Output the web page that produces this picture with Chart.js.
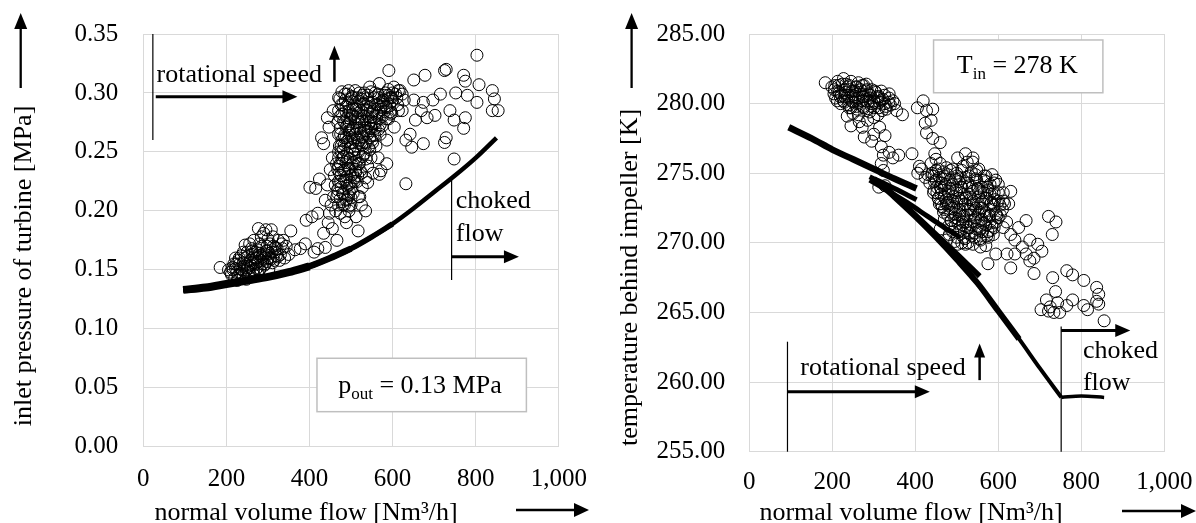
<!DOCTYPE html>
<html>
<head>
<meta charset="utf-8">
<script src="https://cdn.jsdelivr.net/npm/chart.js@4.4.1/dist/chart.umd.min.js"></script>
<style>
  body { margin: 0; background: #fff; }
  canvas { position: absolute; top: 0; }
  #left { left: 0; }
  #right { left: 600px; }
</style>
</head>
<body>
<canvas id="left" width="600" height="523"></canvas>
<canvas id="right" width="596" height="523"></canvas>
<script>
// ---- data ----
const flowTicks = [0, 200, 400, 600, 800, 1000];

// left: inlet pressure of turbine [MPa]
const pressureCurveFlow = [96, 150, 200, 250, 300, 350, 400, 450, 500, 550, 600, 650, 700, 750, 800, 850];
const pressureCurve = [0.133, 0.135, 0.138, 0.141, 0.144, 0.148, 0.153, 0.160, 0.168, 0.178, 0.189, 0.202, 0.216, 0.230, 0.245, 0.262];

const pressureLow = [
  [185,0.152],[205,0.150],[212,0.146],[215,0.152],[220,0.143],[225,0.148],[232,0.155],[238,0.150],
  [240,0.145],[245,0.160],[248,0.142],[252,0.153],[255,0.148],[258,0.158],[262,0.163],[265,0.150],
  [268,0.145],[270,0.155],[273,0.160],[275,0.167],[277,0.185],[280,0.150],[283,0.158],[285,0.170],
  [288,0.163],[290,0.181],[293,0.155],[296,0.166],[300,0.160],[302,0.150],[305,0.172],[308,0.184],
  [310,0.165],[312,0.178],[315,0.158],[318,0.169],[320,0.162],[325,0.175],[330,0.163],[335,0.168],
  [337,0.175],[340,0.160],[355,0.183],[365,0.167],[245,0.171],[260,0.168],[230,0.158],[218,0.155],
  [300,0.176],[295,0.184],[280,0.172],[270,0.165],[250,0.165],[226,0.141],
  [210,0.148],[222,0.151],[228,0.145],[235,0.147],[242,0.153],[247,0.149],[253,0.145],[257,0.152],
  [263,0.156],[267,0.161],[272,0.151],[276,0.157],[282,0.162],[287,0.155],[291,0.160],[297,0.157],
  [303,0.164],[307,0.159],[313,0.170],[322,0.168],[328,0.158],[333,0.172],[344,0.170],[350,0.163],
  [298,0.170],[284,0.178],[266,0.175],[256,0.172],[236,0.162],[222,0.160],[378,0.168],[390,0.172],
  [216,0.150],[233,0.151],[249,0.150],[264,0.149],[281,0.151],[223,0.155],[241,0.156],[259,0.154],
  [274,0.156],[292,0.154],[311,0.156],[231,0.160],[251,0.161],[269,0.160],[286,0.161],[305,0.160],
  [323,0.161],[241,0.165],[262,0.166],[280,0.164],[299,0.166],[317,0.165]
];
const pressureRise = [
  [392,0.192],[406,0.195],[415,0.219],[401,0.220],[424,0.227],[429,0.262],[434,0.257],[443,0.279],
  [447,0.271],[457,0.285],[466,0.212],[438,0.209],[420,0.198],[448,0.198],[466,0.175],[434,0.181],
  [420,0.168],[411,0.165],[438,0.169],[489,0.190],[517,0.183],[535,0.200],[521,0.212],[540,0.224],
  [485,0.299],[494,0.302],[503,0.296],
  [470,0.205],[480,0.215],[475,0.225],[490,0.210],[495,0.222],[485,0.235],[500,0.230],[492,0.245],
  [505,0.240],[510,0.252],[498,0.258],[515,0.262],[505,0.270],[520,0.275],[510,0.280],[525,0.285],
  [495,0.285],[485,0.275],[475,0.265],[470,0.250],[480,0.290],[500,0.295],[530,0.290],[540,0.280],
  [535,0.268],[545,0.262],[530,0.255],[550,0.270],[555,0.285],[560,0.275],[565,0.290],[575,0.280],
  [570,0.265],[560,0.255],[548,0.245],[540,0.238],[525,0.232],[515,0.225],[505,0.215],[495,0.200],
  [485,0.195],[460,0.230],[455,0.245],[465,0.240],[520,0.300],[540,0.298],[558,0.300],[580,0.298],
  [590,0.303],[600,0.300],[610,0.296],[585,0.288],[575,0.272],[565,0.245],[553,0.232],[512,0.242],
  [488,0.262],[530,0.248]
];
const pressureCore = [
  [468,0.218],[472,0.232],[478,0.244],[482,0.252],[488,0.226],[493,0.236],[497,0.268],[502,0.262],
  [507,0.248],[511,0.233],[514,0.270],[518,0.258],[522,0.266],[526,0.278],[528,0.262],[533,0.273],
  [537,0.286],[542,0.292],[546,0.276],[550,0.282],[553,0.292],[557,0.264],[562,0.283],[567,0.296],
  [572,0.288],[578,0.292],[583,0.300],[588,0.295],[593,0.289],[598,0.293],[603,0.305],[607,0.299],
  [612,0.290],[618,0.302],[498,0.278],[488,0.288],[478,0.282],[473,0.295],[508,0.290],[516,0.296],
  [524,0.295],[532,0.300],[512,0.286],[503,0.282],[492,0.272],[483,0.262],[476,0.255],[470,0.238],
  [462,0.222],[458,0.212],[452,0.205],[463,0.200],[474,0.198],[484,0.205],[494,0.213],[500,0.205],
  [508,0.228],[520,0.240],[536,0.244],[545,0.252],[552,0.258],[542,0.268],[558,0.270],[568,0.278],
  [580,0.284],[590,0.278],[598,0.283],[535,0.228],[527,0.220],[518,0.212],[445,0.190],[455,0.185],
  [443,0.222],[450,0.235],[512,0.195],[525,0.205],
  [478,0.301],[492,0.299],[510,0.302],[528,0.298],[548,0.301],[565,0.299],[590,0.298],
  [470,0.296],[486,0.294],[502,0.297],[520,0.293],[537,0.295],[556,0.296],[575,0.293],[598,0.296],
  [476,0.290],[494,0.291],[512,0.289],[530,0.291],[546,0.288],[562,0.290],[584,0.289],
  [470,0.285],[488,0.284],[505,0.286],[518,0.283],[540,0.285],[552,0.284],[572,0.286],[594,0.284],
  [473,0.280],[490,0.279],[503,0.281],[516,0.278],[532,0.280],[548,0.279],[562,0.281],[585,0.278],
  [468,0.275],[482,0.276],[496,0.274],[510,0.275],[527,0.276],[542,0.274],[556,0.275],[570,0.273],
  [474,0.270],[488,0.271],[502,0.269],[520,0.270],[532,0.268],[548,0.270],[566,0.269],
  [470,0.265],[484,0.264],[496,0.266],[510,0.265],[526,0.263],[540,0.265],[553,0.264],
  [478,0.260],[490,0.259],[506,0.261],[520,0.260],[536,0.258],[550,0.260],
  [472,0.255],[484,0.256],[498,0.254],[512,0.255],[526,0.256],[542,0.254],
  [476,0.250],[490,0.249],[504,0.251],[518,0.250],[534,0.249],
  [470,0.245],[482,0.246],[498,0.244],[512,0.245],[528,0.246],
  [474,0.240],[488,0.241],[502,0.239],[518,0.240],
  [468,0.235],[482,0.234],[496,0.236],[510,0.235],[522,0.234],
  [476,0.230],[490,0.229],[504,0.231],[516,0.230],
  [470,0.225],[484,0.226],[498,0.224],[508,0.225],
  [476,0.220],[490,0.221],[502,0.219],
  [468,0.215],[482,0.214],[496,0.216],
  [474,0.210],[488,0.209],[500,0.211],
  [480,0.205],[494,0.204]
];
const pressureHigh = [
  [545,0.305],[568,0.308],[591,0.319],[577,0.294],[595,0.296],[614,0.302],[623,0.299],[632,0.223],
  [586,0.240],[572,0.234],[568,0.231],[586,0.260],[604,0.271],[595,0.282],[623,0.285],[651,0.294],
  [651,0.311],[678,0.315],[669,0.285],[655,0.277],[642,0.265],[632,0.260],[646,0.254],[674,0.257],
  [683,0.279],[697,0.294],[715,0.299],[725,0.319],[729,0.320],[771,0.315],[775,0.310],[803,0.332],
  [808,0.307],[803,0.292],[752,0.300],[780,0.298],[840,0.302],[845,0.295],[854,0.285],[840,0.285],
  [738,0.285],[748,0.277],[775,0.279],[771,0.270],[729,0.262],[725,0.258],[748,0.244],[702,0.281],
  [674,0.292],[614,0.285],[628,0.294]
];

// right: temperature behind impeller [K]
const tempLineAFlow = [95, 150, 200, 250, 300, 350, 403];
const tempLineA = [278.3, 277.5, 276.7, 276.0, 275.3, 274.6, 273.9];
const tempLineBFlow = [290, 350, 403];
const tempLineB = [274.75, 273.9, 273.1];
const tempLineCFlow = [290, 330, 380, 430, 470, 508];
const tempLineC = [274.5, 273.8, 272.9, 271.9, 271.1, 270.4];
const tempLineDFlow = [315, 350, 400, 450, 500, 555];
const tempLineD = [274.3, 273.4, 272.0, 270.6, 269.2, 267.6];
const tempLineEFlow = [300, 350, 400, 450, 500, 550, 600, 650, 700, 752];
const tempLineE = [274.6, 273.3, 271.9, 270.4, 268.8, 267.1, 265.1, 263.1, 261.0, 258.9];
const tempTailFlow = [752, 800, 855];
const tempTail = [258.9, 259.0, 258.9];

const tempUpper = [
  [183,281.5],[213,281.6],[227,281.8],[245,281.6],[263,281.5],[282,281.4],[236,281.2],[254,280.9],
  [272,280.7],[291,280.4],[309,280.4],[337,280.4],[346,280.2],[327,280.0],[300,279.7],[282,279.5],
  [263,279.2],[245,279.7],[227,280.2],[208,280.4],[217,280.8],[240,280.4],[318,280.9],[295,281.0],
  [272,281.3],[337,280.7],[314,280.1],[286,280.1],[250,280.1],[236,279.1],[245,278.4],[272,278.3],
  [277,277.6],[300,277.8],[314,278.3],[327,277.7],[295,277.3],[318,276.9],[323,276.3],[337,276.5],
  [346,276.1],[360,276.3],[369,279.2],[318,275.7],[323,275.2],[327,274.1],[199,281.2],[204,280.7],
  [259,281.2],[282,280.9],[300,280.2],[272,280.2],[231,280.8],[263,280.4],
  [205,281.0],[215,281.3],[222,280.6],[233,281.4],[242,281.0],[250,280.6],[258,280.2],[268,281.0],
  [276,280.5],[288,280.7],[296,280.0],[305,280.8],[312,280.5],[322,280.3],[330,279.8],[340,279.9],
  [350,280.0],[290,279.4],[275,279.8],[260,279.6],[250,279.3],[240,279.9],[230,280.5],[220,280.0],
  [212,280.2],[320,279.5],[310,279.2],[300,279.0],[285,278.8],[265,278.7],[355,279.5],[312,274.0],
  [206,281.3],[224,281.4],[241,281.3],[257,281.2],[276,281.3],[213,280.9],[231,281.0],[249,280.9],
  [266,280.8],[284,281.0],[302,280.9],[219,280.5],[237,280.6],[255,280.5],[273,280.5],[291,280.6],
  [308,280.5],[326,280.6],[229,280.1],[247,280.2],[264,280.1],[282,280.2],[301,280.1],[318,280.2],
  [336,280.1],[241,279.7],[258,279.8],[276,279.7],[294,279.8],[312,279.7],[330,279.6]
];
const tempStrand = [
  [405,279.7],[419,280.2],[427,279.5],[442,279.6],[424,278.6],[438,278.8],[427,277.9],[442,277.5],
  [460,277.2],[447,276.4],[392,276.4],[410,275.5],[406,275.0],[424,274.7],[438,275.7],[460,275.7],
  [475,275.4],[502,276.1],[521,276.4],[539,276.1],[548,275.2],[566,274.5],[580,274.2],[594,274.5],
  [566,273.6],[612,273.0],[630,273.7]
];
const tempCore = [
  [440,275.0],[450,274.5],[460,274.0],[470,274.8],[480,273.5],[490,274.2],[500,273.8],[510,273.0],
  [520,274.3],[530,273.5],[540,272.8],[550,273.9],[560,272.5],[570,273.2],[580,272.0],[590,272.7],
  [600,271.8],[455,273.2],[465,272.6],[475,272.8],[485,272.2],[495,271.8],[505,272.4],[515,271.5],
  [525,272.0],[535,271.3],[545,271.8],[555,270.9],[565,271.4],[575,270.8],[585,271.2],[480,271.2],
  [490,270.8],[500,270.4],[510,270.9],[520,270.3],[530,270.7],[470,271.7],[445,273.8],[435,274.3],
  [455,275.3],[500,275.0],[515,275.5],[530,274.8],[545,274.6],[560,274.0],[575,273.8],[590,273.6],
  [600,273.0],[610,272.4],[620,271.5],[460,271.0],[475,270.2],[520,272.8],[505,273.2],[490,273.0],
  [470,273.3],[540,273.0],[555,272.2],
  [445,274.8],[452,273.6],[458,272.8],[463,273.8],[468,272.2],[473,274.2],[478,272.9],[483,273.9],
  [487,271.6],[493,272.6],[497,274.6],[503,271.4],[507,272.0],[512,274.0],[517,271.9],[523,273.2],
  [527,271.1],[533,272.4],[537,274.0],[543,272.3],[547,271.0],[552,272.8],[558,271.6],[563,273.0],
  [567,272.0],[572,270.5],[578,271.9],[583,272.9],[588,270.6],[595,271.5],[605,272.0],[615,272.8],
  [482,270.6],[495,270.1],[512,270.0],[527,270.0],[542,270.4],[557,270.2],[570,269.8],[465,274.6],
  [485,275.2],[508,274.6],[525,275.8],[538,275.8],[553,275.3],[570,274.8],[585,274.9],[600,274.2],
  [612,273.6],[625,272.8],[450,276.0],[430,274.9],[415,275.3],
  [450,275.2],[468,275.1],[490,275.3],[512,275.2],[535,275.1],
  [440,274.8],[458,274.7],[478,274.9],[500,274.8],[522,274.7],[545,274.9],[566,274.8],
  [446,274.4],[464,274.3],[484,274.5],[505,274.4],[526,274.3],[548,274.5],[570,274.4],[590,274.3],
  [452,274.0],[470,274.1],[490,273.9],[510,274.0],[530,274.1],[552,273.9],[574,274.0],
  [444,273.6],[462,273.5],[480,273.7],[498,273.6],[518,273.5],[538,273.7],[558,273.6],[580,273.5],[600,273.6],
  [456,273.2],[474,273.1],[492,273.3],[512,273.2],[532,273.1],[552,273.3],[572,273.2],[592,273.1],
  [462,272.8],[480,272.7],[500,272.9],[520,272.8],[540,272.7],[560,272.9],[582,272.8],[604,272.7],
  [470,272.4],[488,272.5],[508,272.3],[528,272.4],[546,272.5],[566,272.3],[588,272.4],
  [478,272.0],[496,272.1],[514,271.9],[534,272.0],[552,272.1],[572,271.9],[596,272.0],
  [486,271.6],[504,271.7],[522,271.5],[542,271.6],[560,271.7],[580,271.5],
  [496,271.2],[514,271.3],[532,271.1],[550,271.2],[570,271.3],[590,271.1],
  [506,270.8],[524,270.9],[544,270.7],[562,270.8],[582,270.9],
  [516,270.4],[536,270.5],[556,270.3],[576,270.4]
];
const tempSpread = [
  [594,272.1],[612,271.1],[630,270.6],[649,271.1],[667,271.6],[640,270.2],[658,269.7],[676,270.2],
  [695,269.9],[705,269.4],[686,268.9],[676,268.7],[667,269.2],[630,268.2],[621,269.2],[575,268.5],
  [594,269.2],[557,269.7],[539,269.9],[521,269.9],[502,269.9],[721,271.9],[739,271.5],[730,270.6],
  [686,267.8],[640,269.2]
];
const tempChoked = [
  [731,267.5],[765,268.0],[779,267.7],[806,267.3],[738,266.5],[716,265.9],[703,265.2],[721,265.1],
  [734,265.0],[748,265.0],[765,265.5],[779,265.9],[806,265.5],[815,265.2],[837,266.8],[842,266.3],
  [842,265.6],[855,264.4],[837,265.8],[725,265.4],[743,265.7]
];

// ---- helpers ----
const FONT = '"Liberation Serif", "Times New Roman", serif';

function xy(xs, ys) { return xs.map((x, i) => ({ x: x, y: ys[i] })); }
function pairs(list) { return list.map(p => ({ x: p[0], y: p[1] })); }

function lineSet(data, width) {
  return { data: data, showLine: true, borderColor: '#000', borderWidth: width,
    pointRadius: 0, fill: false, cubicInterpolationMode: 'monotone', borderCapStyle: 'butt' };
}
function circleSet(data) {
  return { data: data, showLine: false, pointRadius: 6, pointBorderWidth: 1,
    pointBorderColor: '#000', pointBackgroundColor: 'rgba(0,0,0,0)' };
}

function arrow(ctx, x1, y1, x2, y2, lw, hl, hw) {
  const a = Math.atan2(y2 - y1, x2 - x1);
  ctx.lineWidth = lw;
  ctx.beginPath();
  ctx.moveTo(x1, y1);
  ctx.lineTo(x2 - hl * 0.8 * Math.cos(a), y2 - hl * 0.8 * Math.sin(a));
  ctx.stroke();
  ctx.beginPath();
  ctx.moveTo(x2, y2);
  ctx.lineTo(x2 - hl * Math.cos(a) + hw / 2 * Math.sin(a), y2 - hl * Math.sin(a) - hw / 2 * Math.cos(a));
  ctx.lineTo(x2 - hl * Math.cos(a) - hw / 2 * Math.sin(a), y2 - hl * Math.sin(a) + hw / 2 * Math.cos(a));
  ctx.closePath();
  ctx.fill();
}

// annotations in data units, axis titles in canvas pixels
function decor(cfg) {
  return {
    id: 'decor',
    afterDatasetsDraw(chart) {
      const ctx = chart.ctx;
      const X = v => chart.scales.x.getPixelForValue(v);
      const Y = v => chart.scales.y.getPixelForValue(v);
      ctx.save();
      ctx.strokeStyle = '#000';
      ctx.fillStyle = '#000';

      // boxed label
      const b = cfg.box;
      const bx = X(b.x0), by = Y(b.y1), bw = X(b.x1) - bx, bh = Y(b.y0) - by;
      ctx.fillStyle = '#fff';
      ctx.fillRect(bx, by, bw, bh);
      ctx.strokeStyle = '#bfbfbf';
      ctx.lineWidth = 1.5;
      ctx.strokeRect(bx, by, bw, bh);
      ctx.fillStyle = '#000';
      ctx.strokeStyle = '#000';
      ctx.textBaseline = 'alphabetic';
      ctx.textAlign = 'left';
      let tx = X(b.tx);
      const ty = Y(b.ty);
      ctx.font = '26px ' + FONT;
      ctx.fillText(b.main, tx, ty);
      tx += ctx.measureText(b.main).width;
      ctx.font = '17px ' + FONT;
      ctx.fillText(b.sub, tx, ty + 6);
      tx += ctx.measureText(b.sub).width;
      ctx.font = '26px ' + FONT;
      ctx.fillText(b.rest, tx, ty);

      // rotational speed
      const r = cfg.speed;
      ctx.lineWidth = 1.2;
      ctx.beginPath();
      ctx.moveTo(X(r.vx), Y(r.vy0));
      ctx.lineTo(X(r.vx), Y(r.vy1));
      ctx.stroke();
      arrow(ctx, X(r.ax0), Y(r.ay), X(r.ax1), Y(r.ay), 3, 15, 13);
      ctx.font = '26px ' + FONT;
      ctx.fillText('rotational speed', X(r.tx), Y(r.ty));
      arrow(ctx, X(r.ux), Y(r.uy0), X(r.ux), Y(r.uy1), 2.5, 14, 11);

      // choked flow
      const c = cfg.choked;
      ctx.lineWidth = 1.2;
      ctx.beginPath();
      ctx.moveTo(X(c.vx), Y(c.vy0));
      ctx.lineTo(X(c.vx), Y(c.vy1));
      ctx.stroke();
      arrow(ctx, X(c.vx), Y(c.ay), X(c.ax1), Y(c.ay), 3, 15, 13);
      ctx.fillText('choked', X(c.tx), Y(c.ty1));
      ctx.fillText('flow', X(c.tx), Y(c.ty2));

      // axis titles with arrows
      const t = cfg.titles;
      ctx.font = '26px ' + FONT;
      ctx.textAlign = 'center';
      ctx.textBaseline = 'middle';
      ctx.fillText('normal volume flow [Nm³/h]', t.xTitleX, t.xTitleY);
      arrow(ctx, t.xArrow0, t.xArrowY, t.xArrow1, t.xArrowY, 2.3, 15, 14);
      ctx.save();
      ctx.translate(t.yTitleX, t.yTitleY);
      ctx.rotate(-Math.PI / 2);
      ctx.fillText(t.yText, 0, 0);
      ctx.restore();
      arrow(ctx, t.yArrowX, t.yArrow0, t.yArrowX, t.yArrow1, 2.3, 16, 13);
      ctx.restore();
    }
  };
}

function makeOptions(yMin, yMax, yStep, area, canvasW) {
  return {
    responsive: false,
    animation: false,
    layout: { padding: { left: 0, top: area.top, right: canvasW - area.right, bottom: 0 } },
    plugins: { legend: { display: false }, tooltip: { enabled: false } },
    scales: {
      x: {
        type: 'linear', min: 0, max: 1000,
        afterBuildTicks: s => { s.ticks = flowTicks.map(v => ({ value: v })); },
        grid: { color: '#d9d9d9', lineWidth: 1, drawTicks: false },
        border: { display: false },
        ticks: { color: '#000', font: { family: FONT, size: 25 }, padding: area.xPad,
          maxRotation: 0, callback: v => v.toLocaleString('en-US') },
        afterFit: s => { s.height = 523 - area.bottom; s.paddingLeft = 0; s.paddingRight = 0; }
      },
      y: {
        type: 'linear', min: yMin, max: yMax,
        ticks: { stepSize: yStep, color: '#000', font: { family: FONT, size: 25 }, padding: area.yPad,
          callback: v => v.toFixed(2) },
        grid: { color: '#d9d9d9', lineWidth: 1, drawTicks: false },
        border: { display: false },
        afterFit: s => { s.width = area.left; s.paddingTop = 0; s.paddingBottom = 0; }
      }
    }
  };
}

// ---- left chart ----
new Chart(document.getElementById('left'), {
  type: 'scatter',
  data: {
    datasets: [
      lineSet(xy(pressureCurveFlow, pressureCurve), 4.5),
      lineSet(xy(pressureCurveFlow.slice(0, 11), pressureCurve.slice(0, 11)), 5.5),
      lineSet(xy(pressureCurveFlow.slice(0, 9), pressureCurve.slice(0, 9)), 6.5),
      lineSet(xy(pressureCurveFlow.slice(0, 7), pressureCurve.slice(0, 7)), 8),
      circleSet(pairs(pressureLow)),
      circleSet(pairs(pressureRise)),
      circleSet(pairs(pressureCore)),
      circleSet(pairs(pressureHigh))
    ]
  },
  options: makeOptions(0, 0.35, 0.05,
    { left: 143.3, right: 558.8, top: 34, bottom: 446.7, xPad: 18, yPad: 25 }, 600),
  plugins: [decor({
    box: { x0: 418, x1: 922, y0: 0.0297, y1: 0.075, tx: 469, ty: 0.0455,
      main: 'p', sub: 'out', rest: ' = 0.13 MPa' },
    speed: { vx: 23, vy0: 0.35, vy1: 0.26, ax0: 30, ax1: 371, ay: 0.2968,
      tx: 32, ty: 0.3095, ux: 460, uy0: 0.3095, uy1: 0.340 },
    choked: { vx: 742, vy0: 0.229, vy1: 0.1414, ay: 0.1611, ax1: 904,
      tx: 752, ty1: 0.2022, ty2: 0.1747 },
    titles: { xTitleX: 306, xTitleY: 513, xArrow0: 516, xArrow1: 589, xArrowY: 510,
      yText: 'inlet pressure of turbine [MPa]', yTitleX: 24, yTitleY: 266,
      yArrowX: 20.7, yArrow0: 88, yArrow1: 13 }
  })]
});

// ---- right chart ----
new Chart(document.getElementById('right'), {
  type: 'scatter',
  data: {
    datasets: [
      lineSet(xy(tempLineAFlow, tempLineA), 6.5),
      lineSet(xy(tempLineBFlow, tempLineB), 5),
      lineSet(xy(tempLineCFlow, tempLineC), 5),
      lineSet(xy(tempLineDFlow, tempLineD), 5.5),
      lineSet(xy(tempLineEFlow, tempLineE), 4),
      lineSet(xy(tempLineEFlow.slice(0, 8), tempLineE.slice(0, 8)), 6),
      lineSet(xy(tempTailFlow, tempTail), 3.5),
      circleSet(pairs(tempUpper)),
      circleSet(pairs(tempStrand)),
      circleSet(pairs(tempCore)),
      circleSet(pairs(tempSpread)),
      circleSet(pairs(tempChoked))
    ]
  },
  options: makeOptions(255, 285, 5,
    { left: 149.3, right: 564.3, top: 34, bottom: 451.7, xPad: 16, yPad: 24 }, 596),
  plugins: [decor({
    box: { x0: 444, x1: 852, y0: 280.78, y1: 284.57, tx: 500, ty: 282.18,
      main: 'T', sub: 'in', rest: ' = 278 K' },
    speed: { vx: 92, vy0: 262.9, vy1: 255, ax0: 92, ax1: 435, ay: 259.3,
      tx: 123, ty: 260.5, ux: 555, uy0: 260.14, uy1: 262.78 },
    choked: { vx: 751.5, vy0: 264.0, vy1: 255, ay: 263.7, ax1: 918,
      tx: 804, ty1: 261.7, ty2: 259.4 },
    titles: { xTitleX: 311, xTitleY: 513, xArrow0: 522, xArrow1: 596, xArrowY: 511,
      yText: 'temperature behind impeller [K]', yTitleX: 30.4, yTitleY: 277.5,
      yArrowX: 31.6, yArrow0: 88, yArrow1: 13 }
  })]
});
</script>
</body>
</html>
